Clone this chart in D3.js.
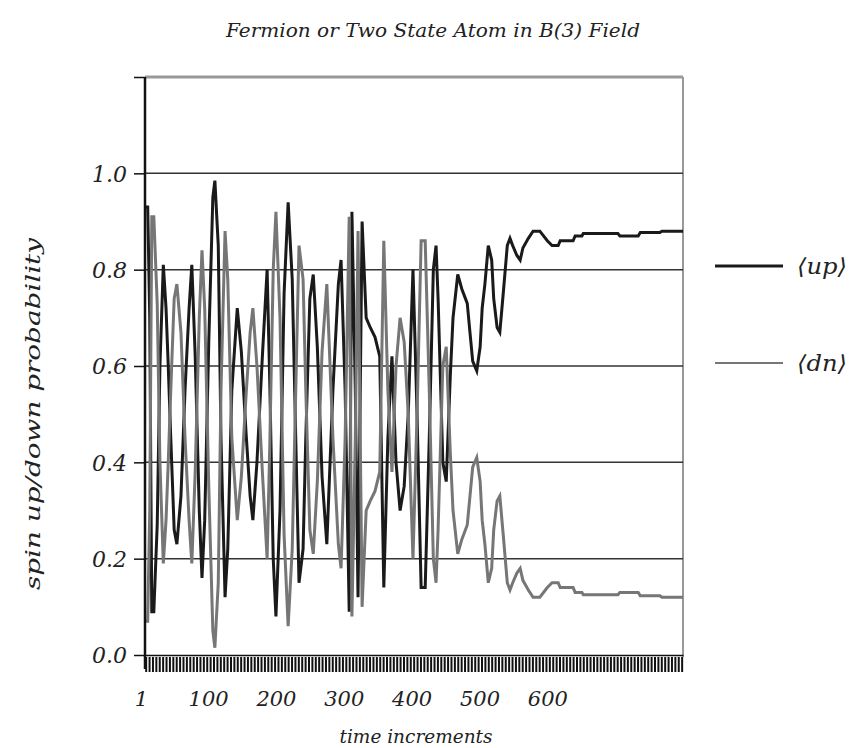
<!DOCTYPE html>
<html>
<head>
<meta charset="utf-8">
<script src="https://cdn.jsdelivr.net/npm/d3@7"></script>
<style>
  body { margin: 0; background: #fff; }
  text { font-family: "DejaVu Serif", "Liberation Serif", serif; font-style: italic; fill: #222; }
</style>
</head>
<body>
<svg id="chart" width="853" height="748"></svg>
<script>
// time increments (read at peaks / troughs / shoulders of the curves)
const times = [7, 11, 14, 17, 20, 25, 29, 34, 38, 41, 45, 50, 54, 60, 66, 72, 76, 81, 87, 91,
    95, 101, 107, 110, 115, 119, 125, 129, 135, 143, 149, 156, 162, 166, 172, 180, 187, 191, 196, 200,
    206, 212, 218, 224, 230, 234, 240, 244, 250, 255, 261, 268, 275, 284, 292, 296, 302, 308, 312, 317,
    321, 327, 333, 339, 346, 353, 359, 365, 371, 377, 383, 389, 395, 402, 408, 414, 420, 426, 432, 436,
    439, 446, 451, 457, 461, 468, 474, 482, 486, 490, 496, 501, 504, 508, 513, 518, 521, 526, 530, 535,
    541, 545, 549, 555, 560, 564, 572, 579, 589, 600, 607, 616, 619, 638, 641, 651, 653, 704, 707, 734,
    737, 766, 769, 800];

const upProb = [0.93, 0.93, 0.70, 0.09, 0.09, 0.27, 0.60, 0.81, 0.72, 0.61, 0.45, 0.26, 0.23, 0.33, 0.55, 0.72, 0.81, 0.62, 0.30, 0.16,
    0.28, 0.65, 0.95, 0.985, 0.85, 0.45, 0.12, 0.22, 0.55, 0.72, 0.63, 0.46, 0.33, 0.28, 0.40, 0.62, 0.80, 0.56, 0.20, 0.08,
    0.30, 0.75, 0.94, 0.78, 0.40, 0.15, 0.22, 0.45, 0.74, 0.79, 0.64, 0.37, 0.23, 0.55, 0.77, 0.82, 0.55, 0.09, 0.92, 0.55,
    0.12, 0.90, 0.70, 0.68, 0.66, 0.62, 0.14, 0.45, 0.62, 0.40, 0.30, 0.35, 0.50, 0.80, 0.50, 0.14, 0.14, 0.45, 0.80, 0.85,
    0.74, 0.40, 0.36, 0.58, 0.70, 0.79, 0.76, 0.73, 0.67, 0.61, 0.59, 0.64, 0.72, 0.77, 0.85, 0.82, 0.74, 0.68, 0.67, 0.75,
    0.85, 0.865, 0.85, 0.83, 0.82, 0.845, 0.865, 0.88, 0.88, 0.86, 0.85, 0.85, 0.86, 0.86, 0.87, 0.87, 0.875, 0.875, 0.87, 0.87,
    0.877, 0.877, 0.88, 0.88];

const dnProb = [0.07, 0.07, 0.30, 0.91, 0.91, 0.73, 0.40, 0.19, 0.28, 0.39, 0.55, 0.74, 0.77, 0.67, 0.45, 0.28, 0.19, 0.38, 0.70, 0.84,
    0.72, 0.35, 0.05, 0.015, 0.15, 0.55, 0.88, 0.78, 0.45, 0.28, 0.37, 0.54, 0.67, 0.72, 0.60, 0.38, 0.20, 0.44, 0.80, 0.92,
    0.70, 0.25, 0.06, 0.22, 0.60, 0.85, 0.78, 0.55, 0.26, 0.21, 0.36, 0.63, 0.77, 0.45, 0.23, 0.18, 0.45, 0.91, 0.08, 0.45,
    0.88, 0.10, 0.30, 0.32, 0.34, 0.38, 0.86, 0.55, 0.38, 0.60, 0.70, 0.65, 0.50, 0.20, 0.50, 0.86, 0.86, 0.55, 0.20, 0.15,
    0.26, 0.60, 0.64, 0.42, 0.30, 0.21, 0.24, 0.27, 0.33, 0.39, 0.41, 0.36, 0.28, 0.23, 0.15, 0.18, 0.26, 0.32, 0.33, 0.25,
    0.15, 0.135, 0.15, 0.17, 0.18, 0.155, 0.135, 0.12, 0.12, 0.14, 0.15, 0.15, 0.14, 0.14, 0.13, 0.13, 0.125, 0.125, 0.13, 0.13,
    0.123, 0.123, 0.12, 0.12];

const yTicks = [0, 0.2, 0.4, 0.6, 0.8, 1.0];
const xTickLabels = [1, 100, 200, 300, 400, 500, 600];
const seriesNames = ["\u27E8up\u27E9", "\u27E8dn\u27E9"];

const svg = d3.select("#chart");
const plotL = 145, plotR = 683, plotT = 77, plotB = 655;

const x = d3.scaleLinear().domain([7, 800]).range([plotL, plotR]);
const y = d3.scaleLinear().domain([0, 1.2]).range([plotB, plotT]);

// top and right frame (grey)
svg.append("line").attr("x1", plotL).attr("x2", plotR).attr("y1", plotT).attr("y2", plotT)
    .attr("stroke", "#999").attr("stroke-width", 3);
svg.append("line").attr("x1", plotR).attr("x2", plotR).attr("y1", plotT).attr("y2", plotB + 2)
    .attr("stroke", "#999").attr("stroke-width", 2);

// horizontal grid
svg.append("g").selectAll("line").data(yTicks.slice(1)).enter().append("line")
    .attr("x1", plotL).attr("x2", plotR)
    .attr("y1", d => y(d)).attr("y2", d => y(d))
    .attr("stroke", "#333").attr("stroke-width", 1.5);

// dense category ticks under the x axis
const tickAxis = svg.append("g").attr("transform", "translate(0," + (plotB + 2) + ")")
    .call(d3.axisBottom(x).tickValues(d3.range(8, 801, 5)).tickSize(15).tickFormat(""));
tickAxis.select(".domain").remove();
tickAxis.selectAll(".tick line").attr("stroke", "#111").attr("stroke-width", 2);

// x axis labels
const xAxis = svg.append("g").attr("transform", "translate(0," + plotB + ")")
    .call(d3.axisBottom(x).tickValues(xTickLabels).tickSize(0).tickPadding(36).tickFormat(d3.format("d")));
xAxis.select(".domain").attr("stroke", "#111").attr("stroke-width", 1.5);
xAxis.selectAll("text").style("font-size", "21px").style("font-family", null);

// data lines
const line = v => d3.line()
    .x((d, i) => x(times[i]))
    .y(d => y(d))(v);

svg.append("path").attr("d", line(upProb))
    .attr("fill", "none").attr("stroke", "#1a1a1a").attr("stroke-width", 3)
    .attr("stroke-linejoin", "miter");
svg.append("path").attr("d", line(dnProb))
    .attr("fill", "none").attr("stroke", "#767676").attr("stroke-width", 3)
    .attr("stroke-linejoin", "miter");

// y axis
const yAxis = svg.append("g").attr("transform", "translate(" + plotL + ",0)")
    .call(d3.axisLeft(y).tickValues(yTicks.concat([1.2])).tickSize(11).tickPadding(7)
        .tickFormat(d => d > 1.1 ? "" : d3.format(".1f")(d)));
yAxis.select(".domain").attr("d", "M0," + plotT + "V" + (plotB + 14)).attr("stroke", "#111").attr("stroke-width", 2.5);
yAxis.selectAll(".tick line").attr("stroke", "#111").attr("stroke-width", 1.5);
yAxis.selectAll("text").style("font-size", "22px").style("font-family", null).attr("dy", "0.35em");

// titles
svg.append("text").attr("x", 433).attr("y", 37).attr("text-anchor", "middle")
    .attr("textLength", 414).attr("lengthAdjust", "spacingAndGlyphs")
    .style("font-size", "19px").text("Fermion or Two State Atom in B(3) Field");
svg.append("text").attr("x", 416).attr("y", 743).attr("text-anchor", "middle")
    .attr("textLength", 153).attr("lengthAdjust", "spacingAndGlyphs")
    .style("font-size", "19px").text("time increments");
svg.append("text").attr("transform", "translate(40,414) rotate(-90)").attr("text-anchor", "middle")
    .attr("textLength", 352).attr("lengthAdjust", "spacingAndGlyphs")
    .style("font-size", "21px").text("spin up/down probability");

// legend
const legend = svg.selectAll(".legend").data(seriesNames).enter().append("g")
    .attr("class", "legend")
    .attr("transform", (d, i) => "translate(715," + (266 + i * 97) + ")");
legend.append("line").attr("x1", 0).attr("x2", 68)
    .attr("stroke", (d, i) => i === 0 ? "#1a1a1a" : "#767676")
    .attr("stroke-width", (d, i) => i === 0 ? 3 : 2);
legend.append("text").attr("x", 82).attr("dy", "0.35em")
    .attr("textLength", 50).attr("lengthAdjust", "spacingAndGlyphs")
    .style("font-size", "22px").text(d => d);
</script>
</body>
</html>
